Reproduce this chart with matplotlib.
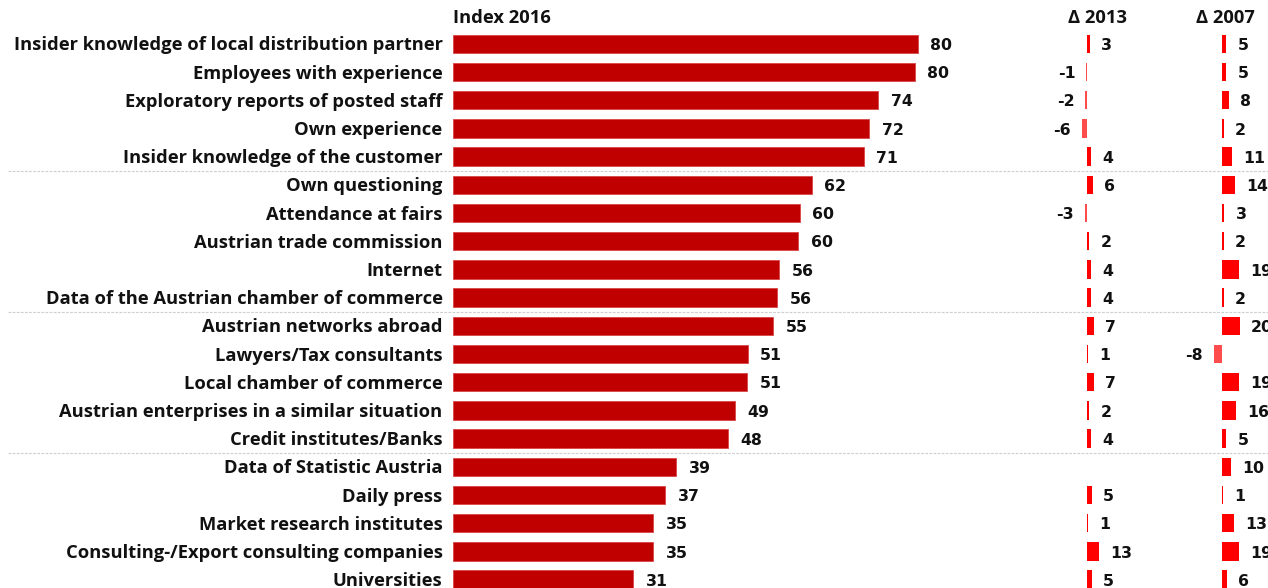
import numpy as np
import matplotlib.pyplot as plt

# Data
categories = [
    "Insider knowledge of local distribution partner",
    "Employees with experience",
    "Exploratory reports of posted staff",
    "Own experience",
    "Insider knowledge of the customer",
    "Own questioning",
    "Attendance at fairs",
    "Austrian trade commission",
    "Internet",
    "Data of the Austrian chamber of commerce",
    "Austrian networks abroad",
    "Lawyers/Tax consultants",
    "Local chamber of commerce",
    "Austrian enterprises in a similar situation",
    "Credit institutes/Banks",
    "Data of Statistic Austria",
    "Daily press",
    "Market research institutes",
    "Consulting-/Export consulting companies",
    "Universities",
]
index_2016 = [80.4, 79.9, 73.6, 72.0, 71.1, 62.1, 60.0, 59.7, 56.4, 56.1,
              55.4, 51.0, 50.9, 48.8, 47.6, 38.6, 36.7, 34.6, 34.6, 31.2]
delta_2013 = [3, -1, -2, -6, 4, 6, -3, 2, 4, 4,
              7, 1, 7, 2, 4, np.nan, 5, 1, 13, 5]
delta_2007 = [5, 5, 8, 2, 11, 14, 3, 2, 19, 2,
              20, -8, 19, 16, 5, 10, 1, 13, 19, 6]

W, H = 1268, 588
ROW0, ROWH = 43.8, 28.2          # pixel centre of first row, row pitch
BAR_H = 0.65
MAIN_RED = "#C00000"
POS_RED = "#FF0000"
NEG_RED = "#FF4D4D"
NUM_FONT = dict(family="DejaVu Sans", fontweight="bold", fontsize=11.3, color="#111111")
TXT_FONT = dict(family="Open Sans", fontweight="bold", fontsize=13.2, color="#111111")
DY = -1.2  # nudge labels down a little (points)


def make_axes(fig, zero_px, px_per_unit):
    ax = fig.add_axes([0, 0, 1, 1])
    ax.set_xlim(-zero_px / px_per_unit, (W - zero_px) / px_per_unit)
    ax.set_ylim((H - ROW0) / ROWH, -ROW0 / ROWH)
    ax.axis("off")
    ax.patch.set_alpha(0)
    return ax


fig = plt.figure(figsize=(W / 100, H / 100), dpi=100)
y = np.arange(len(categories))

# main bars
ax = make_axes(fig, 453, 5.78)
ax.barh(y, index_2016, height=BAR_H, color=MAIN_RED, edgecolor="#D84545", linewidth=0.6)
for yi, v, name in zip(y, index_2016, categories):
    ax.annotate(f"{v:.0f}", (v, yi), xytext=(9, DY), textcoords="offset points",
                ha="left", va="center", **NUM_FONT)
    ax.annotate(name, (0, yi), xytext=(-7.5, DY), textcoords="offset points",
                ha="right", va="center", **TXT_FONT)
for sep in (4.5, 9.5, 14.5):
    ax.axhline(sep, xmin=8 / W, xmax=1, color="#CFCFCF", linestyle=(0, (2.5, 1.2)), linewidth=0.8)
ax.annotate("Index 2016", (0, -0.97), xytext=(0, DY), textcoords="offset points",
            ha="left", va="center", **TXT_FONT)

# delta columns
for zero_px, vals, title, title_dx in ((1087.3, delta_2013, "\u0394 2013", 7.3),
                                       (1221.7, delta_2007, "\u0394 2007", 2.5)):
    axd = make_axes(fig, zero_px, 0.92)
    for yi, v in zip(y, vals):
        if np.isnan(v):
            continue
        axd.barh(yi, v, height=BAR_H, color=POS_RED if v >= 0 else NEG_RED, linewidth=0)
        off = 8 if v >= 0 else -8
        axd.annotate(f"{v:.0f}", (v, yi), xytext=(off, DY), textcoords="offset points",
                     ha="left" if v >= 0 else "right", va="center", **NUM_FONT)
    axd.annotate(title, (0, -0.97), xytext=(title_dx, DY), textcoords="offset points",
                 ha="center", va="center", **TXT_FONT)

fig.savefig("out.png", dpi=100)
